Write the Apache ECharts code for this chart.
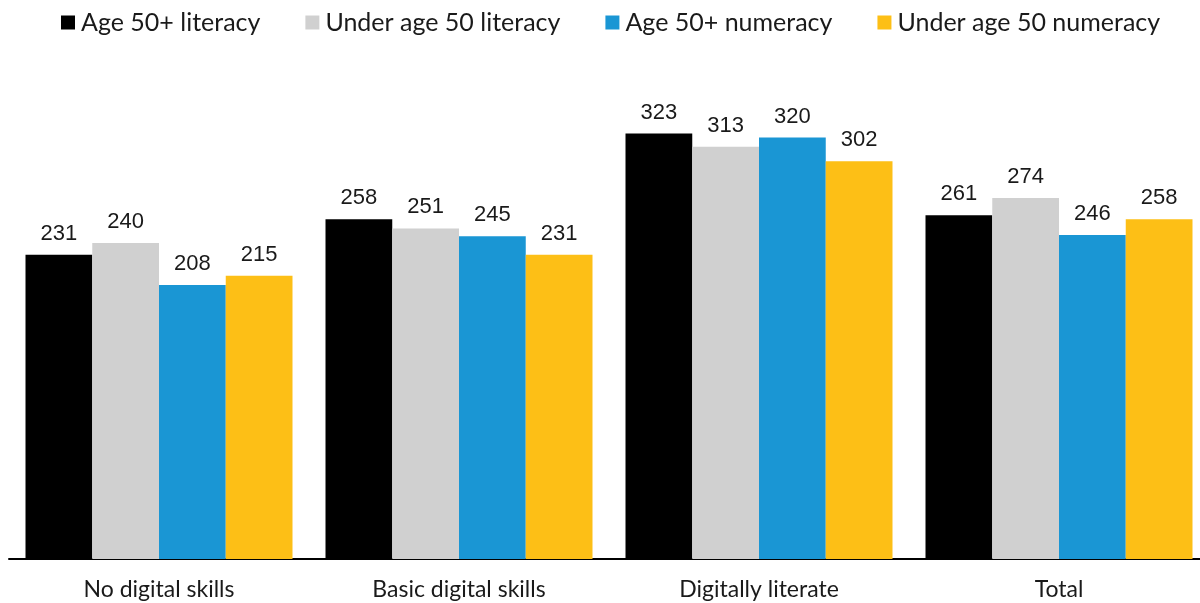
<!DOCTYPE html>
<html><head><meta charset="utf-8">
<script src="https://cdn.jsdelivr.net/npm/echarts@6/dist/echarts.min.js"></script>
<style>html,body{margin:0;padding:0;background:#fff}#c{width:1200px;height:603px}</style>
</head><body><div id="c"></div>
<script>
var categories = ["No digital skills", "Basic digital skills", "Digitally literate", "Total"];
var seriesNames = ["Age 50+ literacy", "Under age 50 literacy", "Age 50+ numeracy", "Under age 50 numeracy"];
var age50Literacy = [231, 258, 323, 261];
var under50Literacy = [240, 251, 313, 274];
var age50Numeracy = [208, 245, 320, 246];
var under50Numeracy = [215, 231, 302, 258];
var colors = ["#000000", "#d0d0d0", "#1a96d4", "#fdbf16"];
var values = [age50Literacy, under50Literacy, age50Numeracy, under50Numeracy];

var chart = echarts.init(document.getElementById('c'));
chart.setOption({
  animation: false,
  color: colors,
  legend: {
    top: 5, left: 56,
    itemWidth: 14, itemHeight: 14, itemGap: 45,
    icon: 'rect',
    textStyle: {fontFamily: 'Lato', fontSize: 25, color: '#1a1a1a', padding: [0,0,0,1]},
    data: seriesNames
  },
  grid: {left: 9, width: 1200, top: 98, bottom: 44, outerBoundsMode: 'none', containLabel: false},
  xAxis: {
    type: 'category', data: categories,
    axisLine: {lineStyle: {color: '#000', width: 2}},
    axisTick: {show: false},
    axisLabel: {fontFamily: 'Lato', fontSize: 23, color: '#1a1a1a', margin: 19}
  },
  yAxis: {type: 'value', min: 0, max: 350, show: false, splitLine: {show: false}},
  series: values.map(function (v, i) {
    return {
      name: seriesNames[i], type: 'bar', data: v,
      barGap: 0, barCategoryGap: '11%',
      label: {show: true, position: 'top', distance: 10, fontFamily: 'Liberation Sans', fontSize: 22, color: '#1a1a1a'}
    };
  })
});
</script></body></html>
